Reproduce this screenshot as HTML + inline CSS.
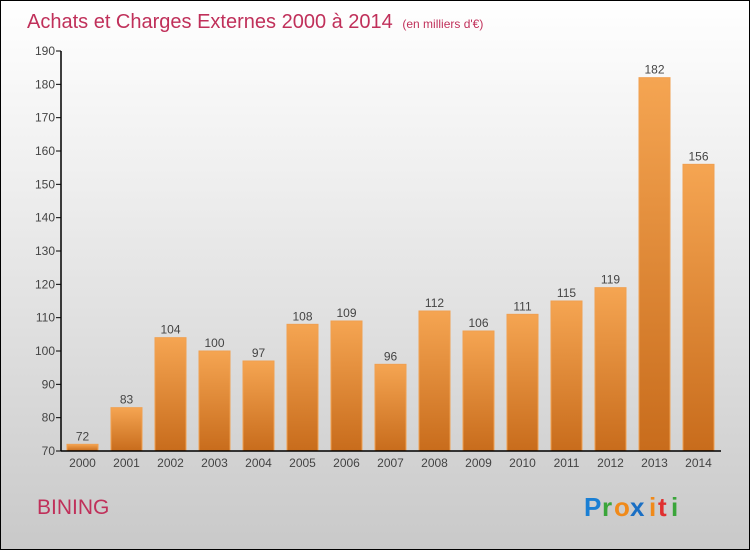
<!DOCTYPE html>
<html><head><meta charset="utf-8"><style>
body{margin:0}
#c{position:relative;width:748px;height:548px;border:1px solid #000;background:linear-gradient(#fff,#f0f0f0 30%,#c9c9c9);font-family:"Liberation Sans",sans-serif;overflow:hidden}
</style></head><body>
<div id="c">
<svg id="s" width="748" height="548">
<defs><linearGradient id="g" x1="0" y1="0" x2="0" y2="1"><stop offset="0" stop-color="#f5a552"/><stop offset="1" stop-color="#c86c1c"/></linearGradient></defs>
<text x="26" y="27" font-size="20" fill="#c0305a">Achats et Charges Externes 2000 à 2014 <tspan font-size="12" dx="4">(en milliers d'€)</tspan></text>
<text x="36" y="513" font-size="21" fill="#c0305a">BINING</text>
<g font-size="26" font-weight="bold">
<text x="583" y="515" fill="#1a7fd4">P</text><text x="601" y="515" fill="#3aa53a">r</text><text x="613" y="515" fill="#f08a1a">o</text><text x="629" y="515" fill="#1a6fc4">x</text><text x="648" y="515" fill="#f08a1a">i</text><text x="657" y="515" fill="#e03030">t</text><text x="670" y="515" fill="#3aa53a">i</text></g>
<g id="plot"></g>
</svg></div>
<script>
const years=["2000","2001","2002","2003","2004","2005","2006","2007","2008","2009","2010","2011","2012","2013","2014"];
const values=[72,83,104,100,97,108,109,96,112,106,111,115,119,182,156];
const yTicks=[70,80,90,100,110,120,130,140,150,160,170,180,190];
const ns="http://www.w3.org/2000/svg";
const g=document.getElementById('plot');
const y=v=>450-(v-70)*400/120;
const x=i=>82.5+i*44-1;
function el(t,a){const e=document.createElementNS(ns,t);for(const k in a)e.setAttribute(k,a[k]);g.appendChild(e);return e;}
yTicks.forEach(t=>{
 const l=el('line',{x1:55,x2:60,y1:y(t),y2:y(t),stroke:'#000'});
 
 
 const tx=el('text',{x:54,y:y(t)+4,'font-size':12,'text-anchor':'end',fill:'#444'});
 tx.textContent=t;
 
 
});
values.forEach((v,i)=>{
 const r=el('rect',{x:x(i)-15.5,y:y(v),width:31,height:450-y(v),fill:'url(#g)',stroke:'#f0a050','stroke-width':1});
 
 
 const t=el('text',{x:x(i),y:y(v)-4,'font-size':12,'text-anchor':'middle',fill:'#444'});
 t.textContent=v;
 
 
 const xl=el('text',{x:x(i),y:466,'font-size':12,'text-anchor':'middle',fill:'#444'});
 xl.textContent=years[i];
 
 
});
const ax=el('line',{x1:60,x2:60,y1:50,y2:450,stroke:'#000','stroke-width':1.5});


const xa=el('line',{x1:60,x2:720,y1:450,y2:450,stroke:'#000','stroke-width':1.5});


</script>
</body></html>
